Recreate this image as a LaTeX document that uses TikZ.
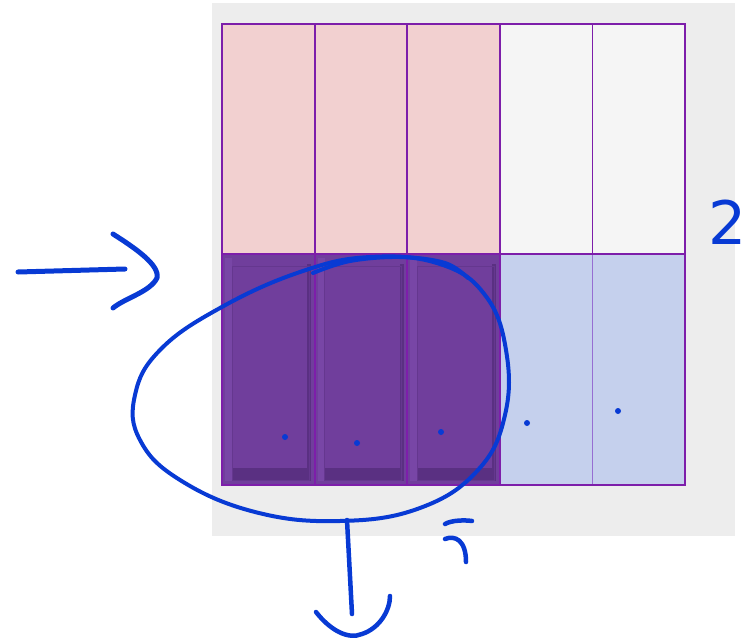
\documentclass[tikz,border=0pt]{standalone}
\usepackage{fontspec}
\setmainfont{DejaVu Sans}
\definecolor{bgray}{RGB}{237,237,237}
\definecolor{pinkc}{RGB}{242,208,208}
\definecolor{whitec}{RGB}{245,245,245}
\definecolor{darkp}{RGB}{112,62,156}
\definecolor{darkpedge}{RGB}{90,48,130}
\definecolor{darkplight}{RGB}{120,70,166}
\definecolor{lblue}{RGB}{197,208,237}
\definecolor{gridc}{RGB}{125,30,170}
\definecolor{thinc}{RGB}{150,110,210}
\definecolor{ink}{RGB}{8,58,212}
\tikzset{
  cell/.style={draw=gridc, line width=1.8pt, minimum width=92.6pt, minimum height=230.5pt, inner sep=0pt, outer sep=0pt},
  pen/.style={draw=ink, line width=4.5pt, line cap=round, line join=round},
  inkdot/.style={circle, fill=ink, minimum size=6pt, inner sep=0pt}
}
\begin{document}
\begin{tikzpicture}[x=1pt,y=-1pt]
\useasboundingbox (0,0) rectangle (753,640);
\fill[bgray] (212,3) rectangle (735,536);
% top row
\foreach \i/\c in {0/pinkc,1/pinkc,2/pinkc,3/whitec,4/whitec}{
  \node[cell, fill=\c] (t\i) at ({222+92.6*\i+46.3},139) {};
}
% bottom row
\foreach \i in {0,1,2}{
  \node[cell, fill=darkp] (b\i) at ({222+92.6*\i+46.3},369.5) {};
  \fill[darkplight] ({222+92.6*\i+3},258) rectangle ({222+92.6*\i+10},481);
  \fill[darkpedge] ({222+92.6*\i+85},264) rectangle ({222+92.6*\i+89},481);
  \fill[darkpedge] ({222+92.6*\i+10},468) rectangle ({222+92.6*\i+89},480);
  \draw[darkpedge!50!darkp, line width=0.8pt] ({222+92.6*\i+10},266) rectangle ({222+92.6*\i+87},480);
}
\foreach \i in {3,4}{
  \node[cell, fill=lblue, draw=none] (b\i) at ({222+92.6*\i+46.3},369.5) {};
}
\draw[thinc, line width=1.2pt] (b3.north east) -- (b3.south east);
\draw[gridc, line width=2.4pt] (t0.north west) rectangle (b4.south east);
\draw[gridc, line width=1.8pt] (t0.south west) -- (t4.south east);
\draw[gridc, line width=1.8pt] (b2.north east) -- (b2.south east);
% dots
\node[inkdot] (d0) at (285,437) {};
\node[inkdot] (d1) at (357,443) {};
\node[inkdot] (d2) at (441,432) {};
\node[inkdot] (d3) at (527,423) {};
\node[inkdot] (d4) at (618,411) {};
% loop
\draw[pen, line width=4pt] plot[smooth, tension=0.6] coordinates {(313,273) (350,261) (400,257) (445,263) (468,278)};
\draw[pen, line width=4pt] plot[smooth cycle, tension=0.7] coordinates {(370,257) (440,264) (485,295) (506,350) (505,415) (478,470) (420,508) (340,521) (255,512) (180,480) (140,440) (135,395) (160,350) (220,308) (300,272)};
% left arrow
\coordinate (la) at (18,272);
\coordinate (lb) at (125,269);
\draw[pen, line width=5pt] (la) -- (lb);
\draw[pen, line width=5pt] (113,234) .. controls (135,248) and (160,265) .. (157,278) .. controls (150,292) and (125,298) .. (113,308);
% bottom arrow
\coordinate (ba) at (347,520);
\coordinate (bb) at (352,614);
\draw[pen] (ba) -- (bb);
\draw[pen] (316,612) .. controls (330,630) and (348,640) .. (362,634) .. controls (380,628) and (390,610) .. (390,596);
% mark near bottom
\draw[pen] (445,524) .. controls (452,520) and (465,520) .. (472,521);
\draw[pen] (445,539) .. controls (455,535) and (466,540) .. (466,562);
% label 2
\node[text=ink, font=\fontsize{60}{60}\selectfont, inner sep=0pt] (two) at (728,222) {2};
\end{tikzpicture}
\end{document}
